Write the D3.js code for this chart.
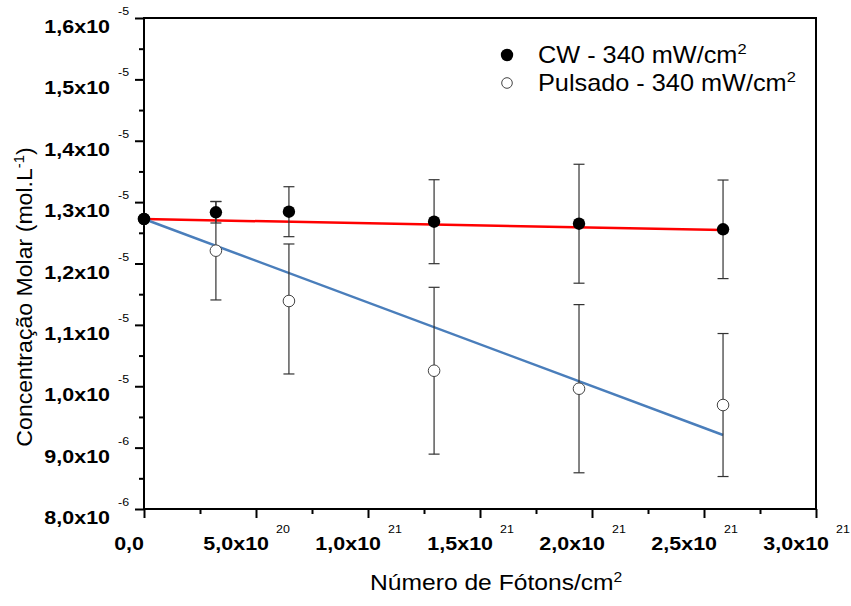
<!DOCTYPE html>
<html>
<head>
<meta charset="utf-8">
<script src="https://cdn.jsdelivr.net/npm/d3@7"></script>
<style>
  body { margin: 0; background: #fff; }
  text { font-family: Arial, "Liberation Sans", sans-serif; fill: #000; }
</style>
</head>
<body>
<div id="chart"></div>
<script>
// Data (x in photons/cm2, y in mol/L)
const photons = [0, 3.21e20, 6.47e20, 1.295e21, 1.942e21, 2.585e21];
const cwMean = [1.2725e-5, 1.2834e-5, 1.2844e-5, 1.2681e-5, 1.2648e-5, 1.2557e-5];
const cwErr = [0, 0.0174e-5, 0.0407e-5, 0.0684e-5, 0.0969e-5, 0.0803e-5];
const pulsMean = [1.2725e-5, 1.2209e-5, 1.1389e-5, 1.0253e-5, 0.9960e-5, 0.9694e-5];
const pulsErrUp = [0, 0.0803e-5, 0.0929e-5, 0.1359e-5, 0.1370e-5, 0.1165e-5];
const pulsErrDown = [0, 0.0803e-5, 0.1189e-5, 0.1359e-5, 0.1370e-5, 0.1165e-5];
// Linear fits (start and end)
const fitX = [0, 2.585e21];
const cwFit = [1.2725e-5, 1.2546e-5];
const pulsFit = [1.2725e-5, 0.9206e-5];
// Tick labels
const yTicks = [0.8e-5, 0.9e-5, 1.0e-5, 1.1e-5, 1.2e-5, 1.3e-5, 1.4e-5, 1.5e-5, 1.6e-5];
const yTickText = ["8,0x10", "9,0x10", "1,0x10", "1,1x10", "1,2x10", "1,3x10", "1,4x10", "1,5x10", "1,6x10"];
const yTickExp = ["-6", "-6", "-5", "-5", "-5", "-5", "-5", "-5", "-5"];
const xTicks = [0, 5e20, 1e21, 1.5e21, 2e21, 2.5e21, 3e21];
const xTickText = ["0,0", "5,0x10", "1,0x10", "1,5x10", "2,0x10", "2,5x10", "3,0x10"];
const xTickExp = ["", "20", "21", "21", "21", "21", "21"];
const legendLabels = ["CW - 340 mW/cm", "Pulsado - 340 mW/cm"];

const width = 851, height = 606;
const plotLeft = 144, plotRight = 816, plotTop = 18, plotBottom = 509;
// the original picture is a bit stretched sideways
const stretch = 1.13;

let svg = d3.select("#chart").append("svg")
    .attr("width", width)
    .attr("height", height);

let x = d3.scaleLinear().domain([0, 3e21]).range([plotLeft, plotRight]);
let y = d3.scaleLinear().domain([0.8e-5, 1.6e-5]).range([plotBottom, plotTop]);

// text placed at (tx, ty) and stretched horizontally
function stretchedText(tx, ty, sx) {
    return svg.append("text")
        .attr("transform", `translate(${tx},${ty}) scale(${sx},1)`);
}

// Frame
svg.append("rect")
    .attr("x", plotLeft).attr("y", plotTop)
    .attr("width", plotRight - plotLeft).attr("height", plotBottom - plotTop)
    .attr("fill", "none").attr("stroke", "#000").attr("stroke-width", 2);

// Y axis ticks (major + minor)
let yAxis = d3.axisLeft(y).tickValues(d3.range(17).map(i => 0.8e-5 + i * 0.05e-5))
    .tickSize(0).tickFormat("");
svg.append("g").attr("transform", `translate(${plotLeft},0)`).call(yAxis)
    .call(g => g.select(".domain").remove())
    .selectAll(".tick line")
    .attr("x2", (d, i) => i % 2 === 0 ? -9 : -5)
    .attr("stroke", "#000").attr("stroke-width", 2);

// X axis ticks (major + minor)
let xAxis = d3.axisBottom(x).tickValues(d3.range(13).map(i => i * 0.25e21))
    .tickSize(0).tickFormat("");
svg.append("g").attr("transform", `translate(0,${plotBottom})`).call(xAxis)
    .call(g => g.select(".domain").remove())
    .selectAll(".tick line")
    .attr("y2", (d, i) => i % 2 === 0 ? 9 : 5)
    .attr("stroke", "#000").attr("stroke-width", 2);

// Y tick labels
yTicks.forEach((v, i) => {
    stretchedText(plotLeft - 34, y(v) + 15, stretch)
        .attr("text-anchor", "end")
        .attr("font-size", 19).attr("font-weight", "bold")
        .text(yTickText[i]);
    stretchedText(plotLeft - 26, y(v) - 3, stretch)
        .attr("font-size", 11)
        .text(yTickExp[i]);
});

// X tick labels
xTicks.forEach((v, i) => {
    let endX = i === 0 ? x(v) : x(v) + 13;
    stretchedText(endX, 550, stretch)
        .attr("text-anchor", "end")
        .attr("font-size", 19).attr("font-weight", "bold")
        .text(xTickText[i]);
    if (xTickExp[i]) {
        stretchedText(endX + 7, 533, stretch)
            .attr("font-size", 11)
            .text(xTickExp[i]);
    }
});

// Axis titles
let xTitle = stretchedText(370, 590, 1.12)
    .attr("font-size", 22);
xTitle.append("tspan").text("Número de Fótons/cm");
xTitle.append("tspan").attr("font-size", 14).attr("dy", -8).text("2");

let yTitle = svg.append("text")
    .attr("transform", "translate(32,297) rotate(-90) scale(1.05,1)")
    .attr("text-anchor", "middle")
    .attr("font-size", 22);
yTitle.append("tspan").text("Concentração Molar (mol.L");
yTitle.append("tspan").attr("font-size", 14).attr("dy", -8).text("-1");
yTitle.append("tspan").attr("dy", 8).text(")");

// Fit lines
let line = d3.line().x(d => x(d[0])).y(d => y(d[1]));
svg.append("path")
    .attr("d", line(fitX.map((v, i) => [v, cwFit[i]])))
    .attr("fill", "none").attr("stroke", "#ff0000").attr("stroke-width", 2.5);
svg.append("path")
    .attr("d", line(fitX.map((v, i) => [v, pulsFit[i]])))
    .attr("fill", "none").attr("stroke", "#4a7ebb").attr("stroke-width", 2.5);

// Error bars
function drawErrors(means, up, down) {
    let g = svg.append("g").attr("stroke", "#333").attr("stroke-width", 1.2);
    photons.forEach((px, i) => {
        if (!up[i] && !down[i]) return;
        let cx = x(px), y1 = y(means[i] + up[i]), y2 = y(means[i] - down[i]);
        g.append("line").attr("x1", cx).attr("x2", cx).attr("y1", y1).attr("y2", y2);
        g.append("line").attr("x1", cx - 5.5).attr("x2", cx + 5.5).attr("y1", y1).attr("y2", y1);
        g.append("line").attr("x1", cx - 5.5).attr("x2", cx + 5.5).attr("y1", y2).attr("y2", y2);
    });
}
drawErrors(cwMean, cwErr, cwErr);
drawErrors(pulsMean, pulsErrUp, pulsErrDown);

// Points
svg.selectAll("circle.puls")
    .data(photons)
    .enter()
    .append("circle")
    .attr("class", "puls")
    .attr("cx", d => x(d))
    .attr("cy", (d, i) => y(pulsMean[i]))
    .attr("r", 5.8)
    .attr("fill", "#fff").attr("stroke", "#444").attr("stroke-width", 1);

svg.selectAll("circle.cw")
    .data(photons)
    .enter()
    .append("circle")
    .attr("class", "cw")
    .attr("cx", d => x(d))
    .attr("cy", (d, i) => y(cwMean[i]))
    .attr("r", 6.2)
    .attr("fill", "#000");

// Legend
svg.append("circle").attr("cx", 507).attr("cy", 55).attr("r", 6.2).attr("fill", "#000");
svg.append("circle").attr("cx", 507).attr("cy", 83).attr("r", 5.3)
    .attr("fill", "#fff").attr("stroke", "#444").attr("stroke-width", 1);
legendLabels.forEach((t, i) => {
    let lt = stretchedText(538, 63 + i * 28, 1.1)
        .attr("font-size", 23);
    lt.append("tspan").text(t);
    lt.append("tspan").attr("font-size", 15).attr("dy", -9).text("2");
});
</script>
</body>
</html>
